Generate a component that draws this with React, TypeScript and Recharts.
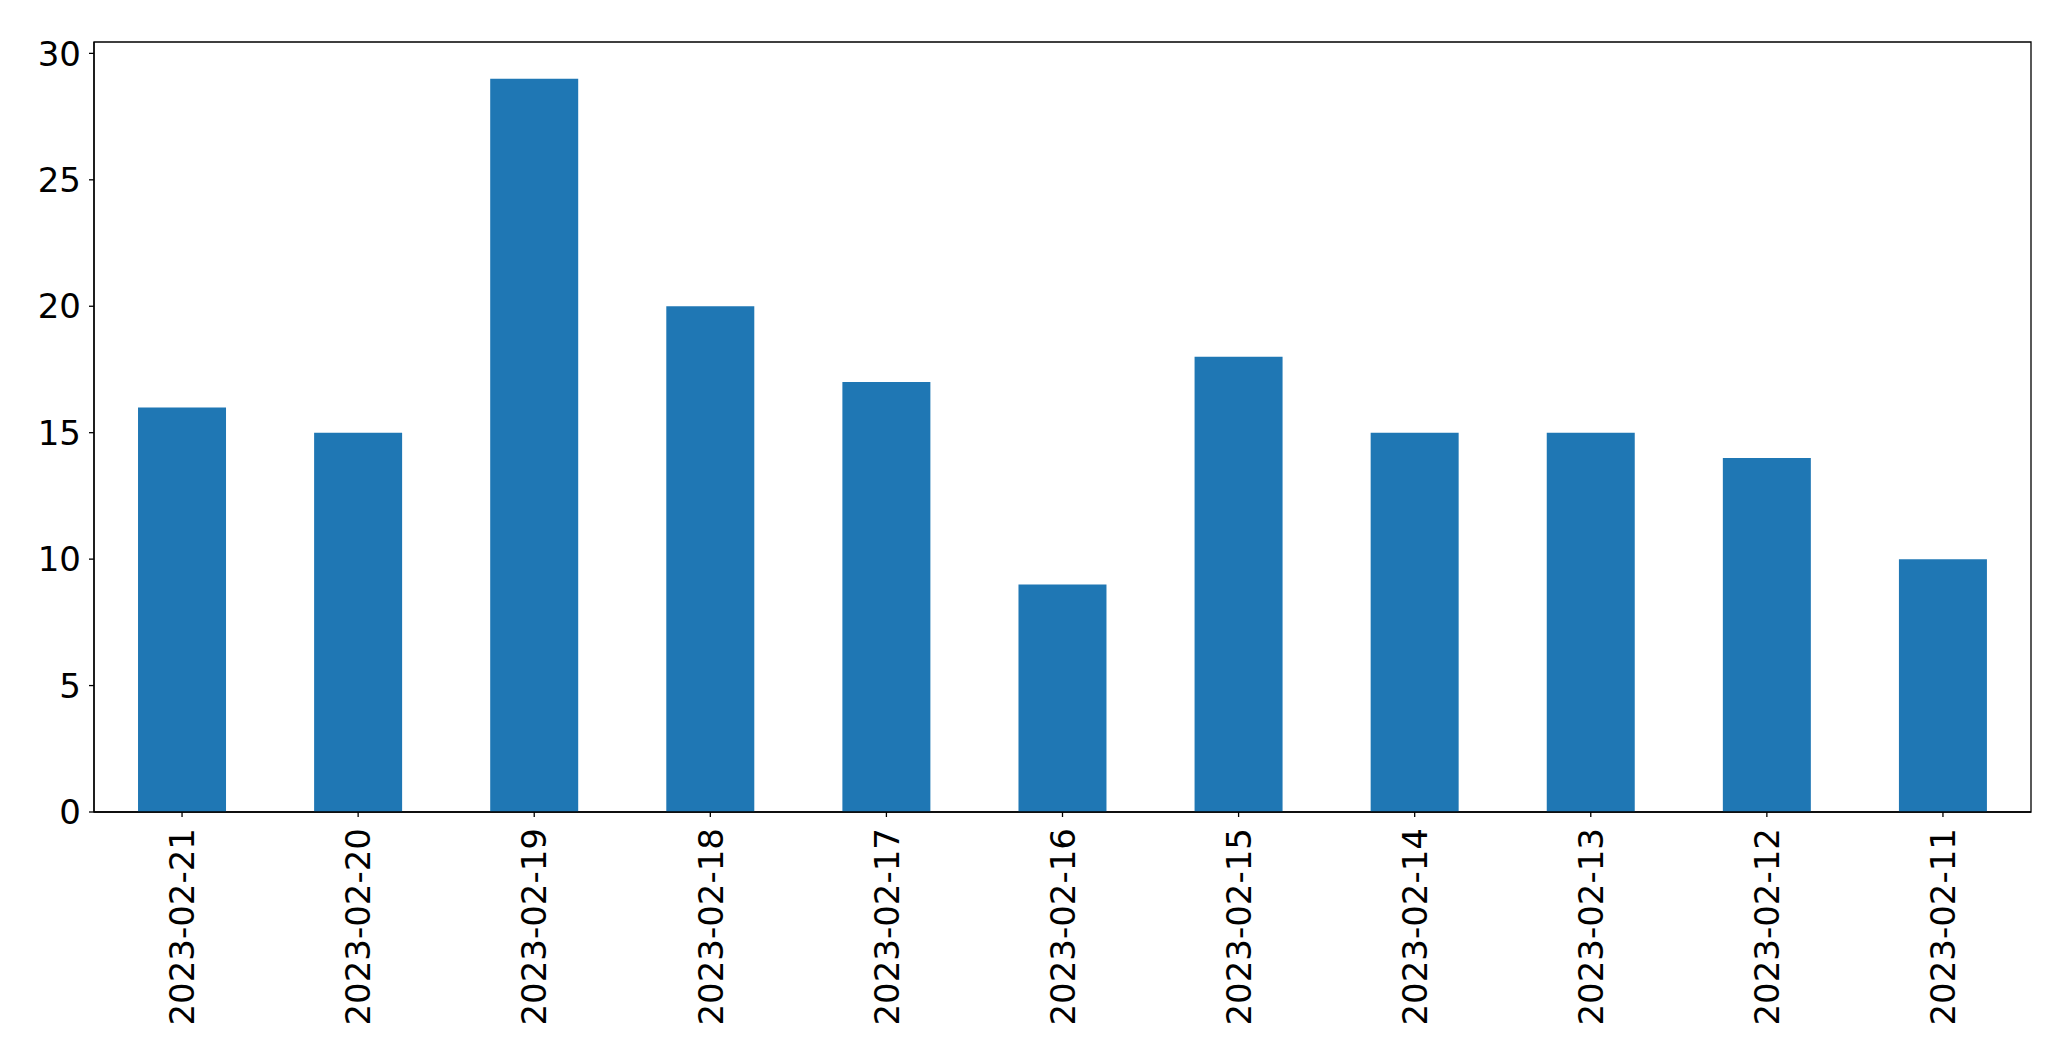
import React from 'react';
import { BarChart, Bar, XAxis, YAxis, ReferenceArea } from 'recharts';

const categories = ['2023-02-21','2023-02-20','2023-02-19','2023-02-18','2023-02-17','2023-02-16','2023-02-15','2023-02-14','2023-02-13','2023-02-12','2023-02-11'];
const counts = [16, 15, 29, 20, 17, 9, 18, 15, 15, 14, 10];
const yTicks = [0, 5, 10, 15, 20, 25, 30];
const yMax = 30.45;

const data = categories.map((c, i) => ({ date: c, count: counts[i] }));

const FONT = 'DejaVu Sans';

const XTick = (props: any) => {
  const { x, y, payload } = props;
  return (
    <text
      x={x}
      y={y}
      transform={`rotate(-90, ${x}, ${y})`}
      textAnchor="end"
      dy="0.36em"
      fontFamily={FONT}
      fontSize={34}
      fill="#000"
    >
      {payload.value}
    </text>
  );
};

const YTick = (props: any) => {
  const { x, y, payload } = props;
  return (
    <text x={x} y={y} textAnchor="end" dy="0.36em" fontFamily={FONT} fontSize={34} fill="#000">
      {payload.value}
    </text>
  );
};

export default function App() {
  return (
    <div style={{ position: 'absolute', left: 0, top: 0, width: 2071, height: 1064, background: '#fff' }}>
      <BarChart
        width={2071}
        height={1064}
        data={data}
        margin={{ top: 42, right: 40, left: 0, bottom: 0 }}
        barCategoryGap="25%"
      >
        <XAxis
          dataKey="date"
          interval={0}
          height={252}
          tickSize={5}
          tickMargin={11}
          tick={<XTick />}
          axisLine={{ stroke: '#000', strokeWidth: 1.3 }}
          tickLine={{ stroke: '#000', strokeWidth: 1.3 }}
        />
        <YAxis
          width={94}
          domain={[0, yMax]}
          ticks={yTicks}
          tickSize={5}
          tickMargin={8}
          tick={<YTick />}
          axisLine={{ stroke: '#000', strokeWidth: 1.3 }}
          tickLine={{ stroke: '#000', strokeWidth: 1.3 }}
        />
        <Bar dataKey="count" fill="#1f77b4" isAnimationActive={false} />
        <ReferenceArea
          x1={categories[0]}
          x2={categories[categories.length - 1]}
          y1={0}
          y2={yMax}
          fill="none"
          fillOpacity={0}
          stroke="#000"
          strokeWidth={1.3}
          ifOverflow="visible"
        />
      </BarChart>
    </div>
  );
}
